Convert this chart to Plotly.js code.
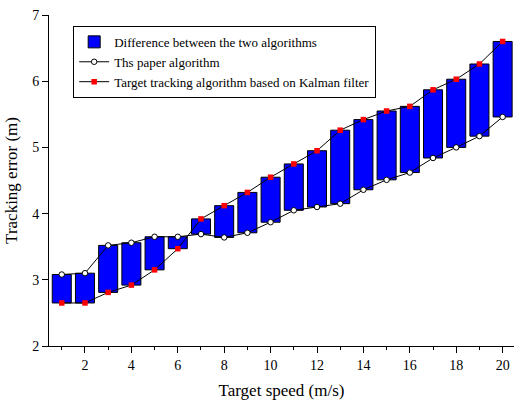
<!DOCTYPE html>
<html>
<head>
<meta charset="utf-8">
<script src="https://cdn.plot.ly/plotly-3.0.1.min.js"></script>
<style>html,body{margin:0;padding:0;background:#fff;}#chart{width:515px;height:400px;}</style>
</head>
<body>
<div id="chart"></div>
<script>
const speeds = [1,2,3,4,5,6,7,8,9,10,11,12,13,14,15,16,17,18,19,20];
const paperAlg = [3.08,3.10,3.52,3.56,3.65,3.65,3.69,3.64,3.71,3.87,4.05,4.10,4.15,4.36,4.51,4.62,4.84,5.00,5.17,5.46];
const kalmanAlg = [2.65,2.65,2.81,2.92,3.15,3.47,3.92,4.12,4.32,4.55,4.75,4.95,5.26,5.42,5.55,5.62,5.87,6.03,6.26,6.60];
const names = ["Difference between the two algorithms","Ths paper algorithm","Target tracking algorithm based on Kalman filter"];

const base = paperAlg.map((v,i)=>Math.min(v,kalmanAlg[i]));
const diff = paperAlg.map((v,i)=>Math.abs(v-kalmanAlg[i]));

const font = "Liberation Serif, Times New Roman, serif";
const data = [
  {type:'bar', x:speeds, y:diff, base:base, width:0.82, name:names[0],
   marker:{color:'#0000ff', line:{color:'#000', width:1}}},
  {type:'scatter', mode:'lines+markers', x:speeds, y:paperAlg, name:names[1],
   line:{color:'#000', width:1}, marker:{symbol:'circle', size:5.5, color:'#fff', line:{color:'#000', width:1}}},
  {type:'scatter', mode:'lines+markers', x:speeds, y:kalmanAlg, name:names[2],
   line:{color:'#000', width:1}, marker:{symbol:'square', size:5.5, color:'#ff0000', line:{width:0}}}
];
const layout = {
  width:515, height:400,
  margin:{l:49, r:1, t:15, b:54},
  paper_bgcolor:'#fff', plot_bgcolor:'#fff',
  font:{family:font, color:'#000', size:14},
  showlegend:true,
  legend:{x:0.052, y:0.967, xanchor:'left', yanchor:'top', bordercolor:'#000', borderwidth:1,
          bgcolor:'#fff', font:{family:font, size:13, color:'#000'}, tracegroupgap:0, itemwidth:30},
  xaxis:{range:[0.45,20.49], tick0:0, dtick:2, ticks:'outside', ticklen:6, tickcolor:'#000',
         showline:true, linecolor:'#000', linewidth:1, showgrid:false, zeroline:false,
         minor:{dtick:1, tick0:0, ticks:'outside', ticklen:3, tickcolor:'#000', showgrid:false},
         tickfont:{family:font, size:14},
         title:{text:'Target speed (m/s)', font:{family:font, size:17}, standoff:14}},
  yaxis:{range:[2,7], dtick:1, ticks:'outside', ticklen:6, tickcolor:'#000',
         showline:true, linecolor:'#000', linewidth:1, showgrid:false, zeroline:false,
         tickfont:{family:font, size:14},
         title:{text:'Tracking error (m)', font:{family:font, size:17}, standoff:10}},
  bargap:0
};
Plotly.newPlot('chart', data, layout, {displayModeBar:false, staticPlot:true});
</script>
</body>
</html>
